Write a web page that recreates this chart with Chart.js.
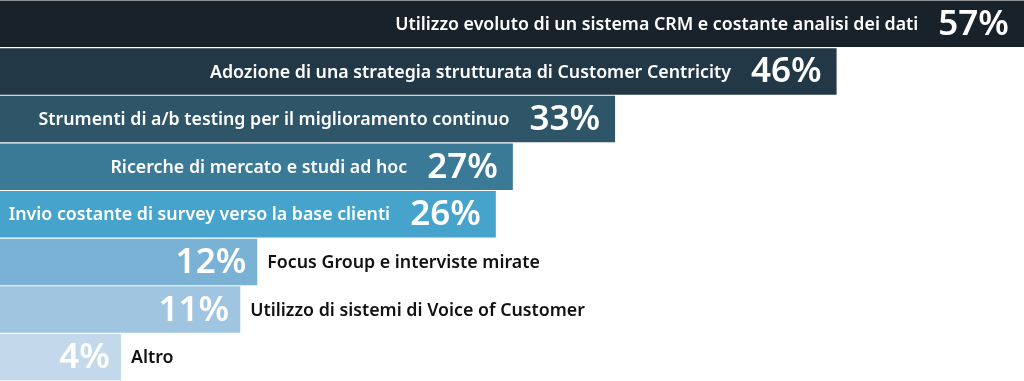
<!DOCTYPE html>
<html>
<head>
<meta charset="utf-8">
<script src="https://cdn.jsdelivr.net/npm/chart.js@4.4.1/dist/chart.umd.min.js"></script>
<style>
  html, body { margin: 0; padding: 0; background: #fff; }
  #wrap { width: 1024px; height: 381px; position: relative; }
</style>
</head>
<body>
<div id="wrap"><canvas id="myChart"></canvas></div>
<script>
const categories = [
    'Utilizzo evoluto di un sistema CRM e costante analisi dei dati',
    'Adozione di una strategia strutturata di Customer Centricity',
    'Strumenti di a/b testing per il miglioramento continuo',
    'Ricerche di mercato e studi ad hoc',
    'Invio costante di survey verso la base clienti',
    'Focus Group e interviste mirate',
    'Utilizzo di sistemi di Voice of Customer',
    'Altro'
];
const values = [57, 46, 33, 27, 26, 12, 11, 4];
const barColors = ['#19212b', '#223847', '#2f5569', '#3b7a96', '#46a3cb', '#79b2d4', '#a0c5e0', '#c3d9eb'];
// bars whose label sits inside the bar (others get it outside, on the right)
const insideLabel = [true, true, true, true, true, false, false, false];
const axisMin = -3.1;
const axisMax = 57;

const labelFont = '600 17.8px "Noto Sans"';
const pctFont = '600 35px "Noto Sans"';

const barLabels = {
    id: 'barLabels',
    afterDatasetsDraw(chart) {
        const ctx = chart.ctx;
        const meta = chart.getDatasetMeta(0);
        ctx.save();
        ctx.textBaseline = 'middle';
        meta.data.forEach((bar, i) => {
            const pct = values[i] + '%';
            const y = bar.y + 1;
            ctx.font = pctFont;
            ctx.fillStyle = '#ffffff';
            ctx.textAlign = 'right';
            if (insideLabel[i]) {
                const pctRight = bar.x - 15;
                ctx.fillText(pct, pctRight, y);
                const w = ctx.measureText(pct).width;
                ctx.font = labelFont;
                ctx.fillText(categories[i], pctRight - w - 20, y);
            } else {
                ctx.fillText(pct, bar.x - 11, y);
                ctx.font = labelFont;
                ctx.fillStyle = '#111111';
                ctx.textAlign = 'left';
                ctx.fillText(categories[i], bar.x + 10, y);
            }
        });
        ctx.restore();
    }
};

const ctx = document.getElementById('myChart').getContext('2d');
const chart = new Chart(ctx, {
    type: 'bar',
    data: {
        labels: categories,
        datasets: [{
            data: values,
            base: axisMin,
            backgroundColor: barColors,
            borderWidth: 0,
            barPercentage: 0.975,
            categoryPercentage: 1
        }]
    },
    options: {
        indexAxis: 'y',
        responsive: true,
        maintainAspectRatio: false,
        animation: false,
        layout: { padding: 0 },
        plugins: {
            legend: { display: false },
            tooltip: { enabled: false }
        },
        scales: {
            x: { display: false, min: axisMin, max: axisMax },
            y: { display: false }
        }
    },
    plugins: [barLabels]
});
</script>
</body>
</html>
